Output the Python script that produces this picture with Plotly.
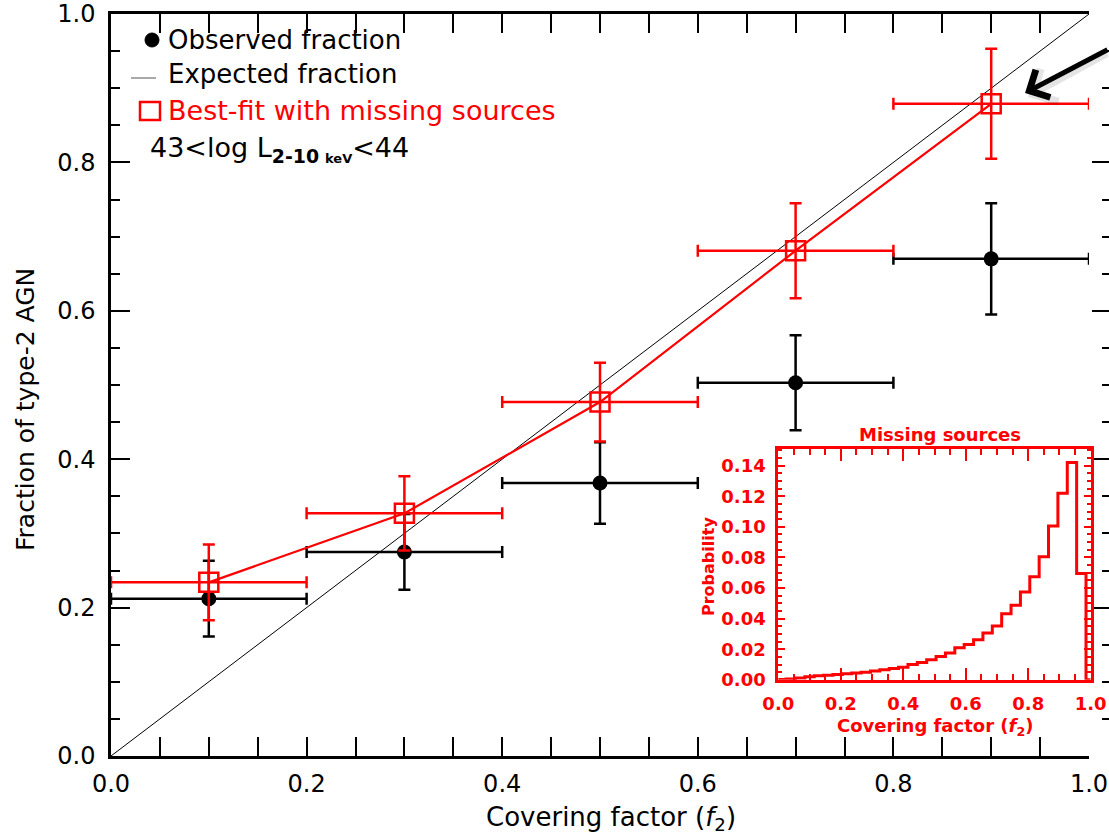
import plotly.graph_objects as go

# ---------------- data ----------------
covering_factor = [0.1, 0.3, 0.5, 0.7, 0.9]
covering_err = [0.1, 0.1, 0.1, 0.1, 0.1]
observed_fraction = [0.212, 0.275, 0.368, 0.503, 0.670]
observed_err = [0.051, 0.051, 0.055, 0.064, 0.075]
bestfit_fraction = [0.234, 0.327, 0.477, 0.681, 0.879]
bestfit_err = [0.051, 0.050, 0.053, 0.064, 0.074]
expected_x = [0.0, 1.0]
expected_y = [0.0, 1.0]

# inset histogram (missing sources)
hist_centers = [0.01, 0.04, 0.07, 0.10, 0.13, 0.16, 0.19, 0.22, 0.25, 0.28, 0.31,
                0.34, 0.37, 0.40, 0.43, 0.46, 0.49, 0.52, 0.55, 0.58, 0.61, 0.64,
                0.67, 0.70, 0.73, 0.76, 0.79, 0.82, 0.85, 0.88, 0.91, 0.94, 0.97]
hist_prob = [0.0002, 0.0005, 0.0012, 0.0020, 0.0026, 0.0030, 0.0035, 0.0040, 0.0045,
             0.0050, 0.0058, 0.0066, 0.0074, 0.0082, 0.0100, 0.0113, 0.0131, 0.0153,
             0.0175, 0.0210, 0.0231, 0.0262, 0.0306, 0.0351, 0.0432, 0.0487, 0.0574,
             0.0673, 0.0804, 0.1005, 0.1219, 0.1420, 0.0695]

main_ticks = [0.0, 0.2, 0.4, 0.6, 0.8, 1.0]
inset_xticks = [0.0, 0.2, 0.4, 0.6, 0.8, 1.0]
inset_yticks = [0.00, 0.02, 0.04, 0.06, 0.08, 0.10, 0.12, 0.14]

# ---------------- layout geometry (pixels) ----------------
W, H = 1109, 839
L, R, T, B = 111, 0, 14, 83
PW = W - L - R
PH = H - T - B
X_END = 1089  # pixel of x = 1.0


def px(x):
    return (x - L) / PW


def py(y):
    return (H - B - y) / PH


FONT = "DejaVu Sans"
RED = "#ff0000"

# step outline for histogram
w = hist_centers[1] - hist_centers[0]
step_x = [c - w / 2 for c in hist_centers] + [hist_centers[-1] + w / 2, 1.0]
step_y = list(hist_prob) + [0.0, 0.0]

fig = go.Figure()

# expected fraction
fig.add_trace(go.Scatter(x=expected_x, y=expected_y, mode="lines",
                         line=dict(color="black", width=1), showlegend=False,
                         hoverinfo="skip"))
# observed
fig.add_trace(go.Scatter(
    x=covering_factor, y=observed_fraction, mode="markers",
    marker=dict(symbol="circle", size=15, color="black"),
    error_x=dict(type="data", array=covering_err, color="black", thickness=2.5, width=6),
    error_y=dict(type="data", array=observed_err, color="black", thickness=2.5, width=6),
    showlegend=False))
# best fit
fig.add_trace(go.Scatter(
    x=covering_factor, y=bestfit_fraction, mode="lines+markers",
    line=dict(color=RED, width=2.2),
    marker=dict(symbol="square-open", size=19, color=RED, line=dict(width=2.5, color=RED)),
    error_x=dict(type="data", array=covering_err, color=RED, thickness=2.5, width=6),
    error_y=dict(type="data", array=bestfit_err, color=RED, thickness=2.5, width=6),
    showlegend=False))
# dummy for right-edge ticks axis
fig.add_trace(go.Scatter(x=[None], y=[None], yaxis="y3", showlegend=False, hoverinfo="skip"))

# inset histogram
fig.add_trace(go.Scatter(x=step_x, y=step_y, mode="lines", line_shape="hv",
                         line=dict(color=RED, width=3), xaxis="x2", yaxis="y2",
                         showlegend=False, hoverinfo="skip"))

x_dom_end = px(X_END)
inset_x0, inset_x1 = px(778.3), px(1090.7)
inset_y0, inset_y1 = py(679.8), py(449.3)

fig.update_layout(
    width=W, height=H,
    margin=dict(l=L, r=R, t=T, b=B, autoexpand=False),
    paper_bgcolor="white", plot_bgcolor="white",
    font=dict(family=FONT, color="black", size=24),
    xaxis=dict(domain=[0, x_dom_end], range=[0, 1], tickvals=main_ticks,
               ticktext=[f"{v:.1f}" for v in main_ticks], automargin=False,
               showline=True, linecolor="black", linewidth=2.5, mirror="allticks",
               ticks="inside", ticklen=19, tickwidth=2, tickcolor="black",
               minor=dict(dtick=0.05, tick0=0, ticks="inside", ticklen=9, tickwidth=2,
                          tickcolor="black"),
               showgrid=False, zeroline=False, tickfont=dict(size=24),
               ticklabelstandoff=4),
    yaxis=dict(domain=[0, 1], range=[0, 1], tickvals=main_ticks,
               ticktext=[f"{v:.1f}" for v in main_ticks], automargin=False,
               showline=True, linecolor="black", linewidth=2.5, mirror=False,
               ticks="inside", ticklen=19, tickwidth=2, tickcolor="black",
               minor=dict(dtick=0.05, tick0=0, ticks="inside", ticklen=9, tickwidth=2,
                          tickcolor="black"),
               showgrid=False, zeroline=False, tickfont=dict(size=24),
               ticklabelstandoff=8),
    yaxis3=dict(overlaying="y", side="right", anchor="free", position=1.0,
                range=[0, 1], tickvals=main_ticks, showticklabels=False,
                automargin=False, autoshift=False,
                showline=False, ticks="inside", ticklen=17, tickwidth=2,
                tickcolor="black",
                minor=dict(dtick=0.05, tick0=0, ticks="inside", ticklen=7, tickwidth=2,
                           tickcolor="black"),
                showgrid=False, zeroline=False),
    xaxis2=dict(domain=[inset_x0, inset_x1], anchor="y2", range=[0, 1],
                tickvals=inset_xticks, ticktext=[f"{v:.1f}" for v in inset_xticks],
                automargin=False,
                showline=True, linecolor=RED, linewidth=3, mirror="allticks",
                ticks="inside", ticklen=12, tickwidth=2, tickcolor=RED,
                minor=dict(dtick=0.05, tick0=0, ticks="inside", ticklen=6, tickwidth=2,
                           tickcolor=RED),
                showgrid=False, zeroline=False,
                tickfont=dict(size=18, color=RED, weight="bold"),
                ticklabelstandoff=6),
    yaxis2=dict(domain=[inset_y0, inset_y1], anchor="x2", range=[0, 0.1507],
                tickvals=inset_yticks, ticktext=[f"{v:.2f}" for v in inset_yticks],
                automargin=False,
                showline=True, linecolor=RED, linewidth=3, mirror="allticks",
                ticks="inside", ticklen=7, tickwidth=2, tickcolor=RED,
                minor=dict(dtick=0.005, tick0=0, ticks="inside", ticklen=4, tickwidth=2,
                           tickcolor=RED),
                showgrid=False, zeroline=False,
                tickfont=dict(size=18, color=RED, weight="bold"),
                ticklabelstandoff=6),
)

ann = []
# axis titles
ann.append(dict(text="Covering factor (<i>f</i><sub>2</sub>)", xref="paper", yref="paper",
                x=px(611), y=py(818), showarrow=False, font=dict(size=26),
                xanchor="center", yanchor="middle"))
ann.append(dict(text="Fraction of type-2 AGN", xref="paper", yref="paper",
                x=px(25), y=py(410), showarrow=False, font=dict(size=25), textangle=-90,
                xanchor="center", yanchor="middle"))
# legend texts
ann.append(dict(text="Observed fraction", xref="paper", yref="paper", x=px(166), y=py(40),
                showarrow=False, xanchor="left", yanchor="middle", font=dict(size=26)))
ann.append(dict(text="Expected fraction", xref="paper", yref="paper", x=px(166), y=py(74),
                showarrow=False, xanchor="left", yanchor="middle", font=dict(size=26)))
ann.append(dict(text="Best-fit with missing sources", xref="paper", yref="paper",
                x=px(166), y=py(110), showarrow=False, xanchor="left", yanchor="middle",
                font=dict(size=27, color=RED)))
ann.append(dict(text="43&lt;log L<sub><b>2-10</b> <span style='font-size:13px'><b>keV</b></span></sub>&lt;44",
                xref="paper", yref="paper", x=px(148), y=py(150), showarrow=False,
                xanchor="left", yanchor="middle", font=dict(size=27)))
# inset titles
ann.append(dict(text="Missing sources", xref="paper", yref="paper", x=px(940), y=py(435),
                showarrow=False, xanchor="center", yanchor="middle",
                font=dict(size=18, color=RED, weight="bold")))
ann.append(dict(text="Covering factor (<i>f</i><sub>2</sub>)", xref="paper", yref="paper",
                x=px(935), y=py(727), showarrow=False, xanchor="center", yanchor="middle",
                font=dict(size=18, color=RED, weight="bold")))
ann.append(dict(text="Probability", xref="paper", yref="paper", x=px(708), y=py(567),
                showarrow=False, xanchor="center", yanchor="middle", textangle=-90,
                font=dict(size=16, color=RED, weight="bold")))
# arrow with soft shadow
tip_x, tip_y = 0.9346, 0.8935
ann.append(dict(x=tip_x + 3 / 978, y=tip_y - 4 / 742, xref="x", yref="y", ax=100, ay=-44,
                showarrow=True, arrowhead=4, arrowsize=1.2, arrowwidth=6,
                arrowcolor="rgba(0,0,0,0.10)", text=""))
ann.append(dict(x=tip_x, y=tip_y, xref="x", yref="y", ax=100, ay=-44,
                showarrow=True, arrowhead=4, arrowsize=1.2, arrowwidth=5,
                arrowcolor="black", text=""))
fig.update_layout(annotations=ann)

# legend symbols
shapes = []
shapes.append(dict(type="circle", xref="paper", yref="paper", xsizemode="pixel",
                   ysizemode="pixel", xanchor=px(152), yanchor=py(40), x0=-7, x1=7,
                   y0=-7, y1=7, fillcolor="black", line=dict(color="black", width=1)))
shapes.append(dict(type="line", xref="paper", yref="paper", x0=px(131), x1=px(156),
                   y0=py(78), y1=py(78), line=dict(color="#555555", width=1)))
shapes.append(dict(type="rect", xref="paper", yref="paper", xsizemode="pixel",
                   ysizemode="pixel", xanchor=px(150), yanchor=py(111), x0=-10, x1=10,
                   y0=-9, y1=9, line=dict(color=RED, width=2.5)))
fig.update_layout(shapes=shapes)

fig.write_html("out.html")
